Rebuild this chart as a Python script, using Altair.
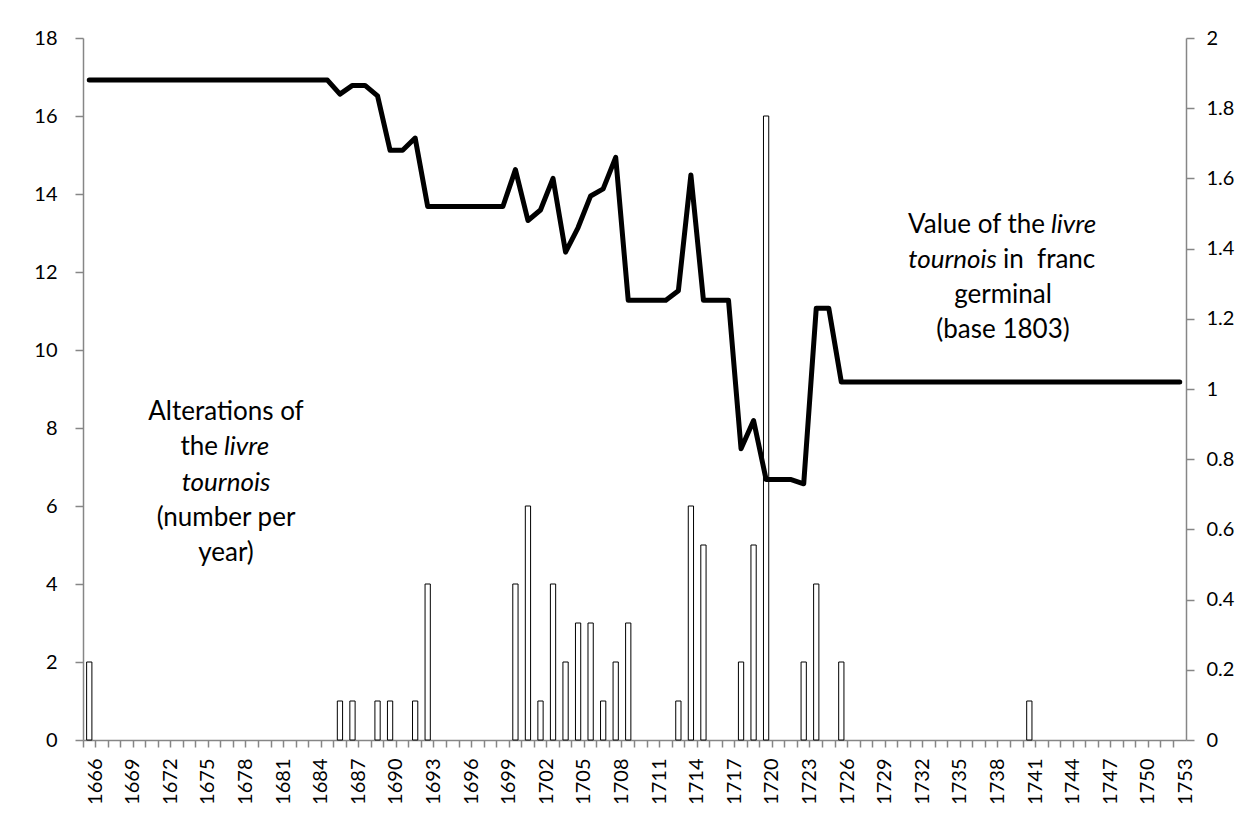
import altair as alt
import pandas as pd

# ---- data ----
years = list(range(1666, 1754))

# number of alterations of the livre tournois per year (left axis)
alterations = [
    2, 0, 0, 0, 0, 0, 0, 0, 0, 0,      # 1666-1675
    0, 0, 0, 0, 0, 0, 0, 0, 0, 0,      # 1676-1685
    1, 1, 0, 1, 1, 0, 1, 4, 0, 0,      # 1686-1695
    0, 0, 0, 0, 4, 6, 1, 4, 2, 3,      # 1696-1705
    3, 1, 2, 3, 0, 0, 0, 1, 6, 5,      # 1706-1715
    0, 0, 2, 5, 16, 0, 0, 2, 4, 0,     # 1716-1725
    2, 0, 0, 0, 0, 0, 0, 0, 0, 0,      # 1726-1735
    0, 0, 0, 0, 0, 1, 0, 0, 0, 0,      # 1736-1745
    0, 0, 0, 0, 0, 0, 0, 0,            # 1746-1753
]

# value of the livre tournois in franc germinal (right axis)
livre_value = [
    1.88, 1.88, 1.88, 1.88, 1.88, 1.88, 1.88, 1.88, 1.88, 1.88,   # 1666-1675
    1.88, 1.88, 1.88, 1.88, 1.88, 1.88, 1.88, 1.88, 1.88, 1.88,   # 1676-1685
    1.84, 1.865, 1.865, 1.835, 1.68, 1.68, 1.715, 1.52, 1.52, 1.52,  # 1686-1695
    1.52, 1.52, 1.52, 1.52, 1.625, 1.48, 1.51, 1.60, 1.39, 1.46,  # 1696-1705
    1.55, 1.57, 1.66, 1.253, 1.253, 1.253, 1.253, 1.28, 1.61, 1.253,  # 1706-1715
    1.253, 1.253, 0.83, 0.91, 0.742, 0.742, 0.742, 0.73, 1.23, 1.23,  # 1716-1725
    1.02, 1.02, 1.02, 1.02, 1.02, 1.02, 1.02, 1.02, 1.02, 1.02,   # 1726-1735
    1.02, 1.02, 1.02, 1.02, 1.02, 1.02, 1.02, 1.02, 1.02, 1.02,   # 1736-1745
    1.02, 1.02, 1.02, 1.02, 1.02, 1.02, 1.02, 1.02,               # 1746-1753
]

left_ticks = [0, 2, 4, 6, 8, 10, 12, 14, 16, 18]
right_ticks = [0, 0.2, 0.4, 0.6, 0.8, 1, 1.2, 1.4, 1.6, 1.8, 2]

df = pd.DataFrame({"year": years, "alterations": alterations, "value": livre_value})

FONT = "Lato"
GRAY = "#868686"
W, H = 1103, 702
STEP = W / len(years)

x_enc = alt.X(
    "year:O",
    scale=alt.Scale(paddingInner=0, paddingOuter=0),
    axis=alt.Axis(
        title=None,
        labelAngle=270,
        bandPosition=0,
        labelOffset=STEP / 2,
        labelExpr="(toNumber(datum.value) - 1666) % 3 == 0 ? datum.label : ''",
        labelOverlap=False,
        tickSize=7,
        labelPadding=11,
        domainColor=GRAY,
        domainWidth=1.5,
        tickColor=GRAY,
        tickWidth=1.5,
        labelFont=FONT,
        labelFontSize=20,
        labelColor="black",
        grid=False,
    ),
)

bars = alt.Chart(df).transform_filter(
    "datum.alterations > 0"
).mark_bar(
    fill="white", stroke="black", strokeWidth=1, width=alt.RelativeBandSize(0.42)
).encode(
    x=x_enc,
    y=alt.Y(
        "alterations:Q",
        scale=alt.Scale(domain=[0, 18], nice=False),
        axis=alt.Axis(
            orient="left", title=None, values=left_ticks, grid=False,
            tickSize=8, labelPadding=18, domainColor=GRAY, domainWidth=1.5,
            tickColor=GRAY, tickWidth=1.5, labelFont=FONT, labelFontSize=20,
            labelColor="black",
        ),
    ),
)

line = alt.Chart(df).mark_line(
    color="black", strokeWidth=5, strokeJoin="round", strokeCap="round"
).encode(
    x=x_enc,
    y=alt.Y(
        "value:Q",
        scale=alt.Scale(domain=[0, 2], nice=False),
        axis=alt.Axis(
            orient="right", title=None, values=right_ticks, format="~g", grid=False,
            tickSize=8, labelPadding=12, domainColor=GRAY, domainWidth=1.5,
            tickColor=GRAY, tickWidth=1.5, labelFont=FONT, labelFontSize=20,
            labelColor="black",
        ),
    ),
)

# ---- annotations (positions in pixels of the plot area) ----
OX, OY = 83, 38
ANN = 26


def txt(s, px, py, align="center", italic=False):
    return alt.Chart(alt.Data(values=[{}])).mark_text(
        text=s, x=px - OX, y=py - OY, align=align, baseline="middle",
        font=FONT, fontSize=ANN, color="black",
        fontStyle="italic" if italic else "normal",
    )


LX = 226
left_lines = [
    txt("Alterations of", LX, 412),
    txt("the", 218, 447, align="right"),
    txt("livre", 224, 447, align="left", italic=True),
    txt("tournois", LX, 483, italic=True),
    txt("(number per", LX, 518),
    txt("year)", LX, 553),
]

RX = 1003
right_lines = [
    txt("Value of the", 1045, 225, align="right"),
    txt("livre", 1051, 225, align="left", italic=True),
    txt("tournois", 997, 260, align="right", italic=True),
    txt("in\u00a0 franc", 1003, 260, align="left"),
    txt("germinal", RX, 295),
    txt("(base 1803)", RX, 330),
]

chart = alt.layer(bars, line, *left_lines, *right_lines).resolve_scale(
    y="independent"
).properties(
    width=W, height=H,
    autosize=alt.AutoSizeParams(type="none"),
    padding={"left": 75, "top": 30, "right": 51, "bottom": 78},
    background="white",
).configure_view(stroke=None)

chart.save("out.html", embed_options={"renderer": "svg", "actions": False})
